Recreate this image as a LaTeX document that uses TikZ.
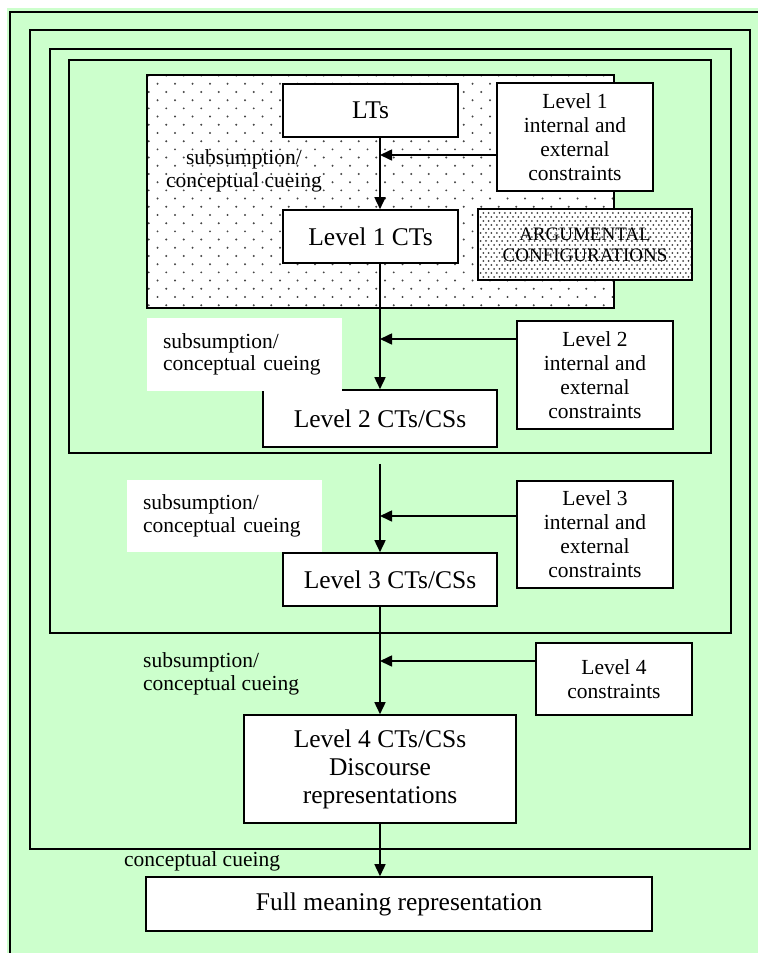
\documentclass[tikz,border=0pt]{standalone}
\usepackage{fontspec}
\setmainfont{Liberation Serif}
\usepackage{tikz}
\usetikzlibrary{arrows.meta,patterns,positioning,calc}

\definecolor{bggreen}{RGB}{204,255,204}
\definecolor{dotgray}{RGB}{70,70,70}

\pgfdeclarepatternformonly{sparse dots}{\pgfqpoint{-1pt}{-1pt}}{\pgfqpoint{18.5pt}{17.4pt}}{\pgfqpoint{17.5pt}{16.4pt}}{%
  \pgfpathcircle{\pgfqpoint{0pt}{0pt}}{1.1pt}
  \pgfpathcircle{\pgfqpoint{8.75pt}{8.2pt}}{1.1pt}
  \pgfusepath{fill}}
\pgfdeclarepatternformonly{dense dots}{\pgfqpoint{-1pt}{-1pt}}{\pgfqpoint{6.4pt}{9pt}}{\pgfqpoint{5.4pt}{8pt}}{%
  \pgfpathcircle{\pgfqpoint{0pt}{0pt}}{1pt}
  \pgfpathcircle{\pgfqpoint{2.7pt}{4pt}}{1pt}
  \pgfusepath{fill}}

\begin{document}
\begin{tikzpicture}[x=1pt,y=-1pt,
    frame/.style={line width=1.6pt},
    box/.style={draw,line width=1.6pt,fill=white,inner sep=0pt,align=center,
      font=\fontsize{25.5}{28}\selectfont},
    cons/.style={draw,line width=1.6pt,fill=white,inner sep=0pt,align=center,
      minimum width=156pt,font=\fontsize{21.5}{24}\selectfont},
    lbl/.style={inner sep=0pt,font=\fontsize{21.5}{22.5}\selectfont},
    flow/.style={line width=1.6pt,-{Triangle[length=12pt,width=11pt]}}]
  \useasboundingbox (0,0) rectangle (758,953);
  \fill[white] (0,0) rectangle (758,953);
  \fill[bggreen] (7,8) rectangle (758,953);

  % nested frames
  \draw[frame] (10,953) -- (10,12) -- (758,12);
  \draw[frame] (30,30) rectangle (750,849);
  \draw[frame] (50,49) rectangle (731,633);
  \draw[frame] (69,60) rectangle (711,453);
  \draw[frame,preaction={fill=white},pattern=sparse dots,pattern color=dotgray]
    (147,75) rectangle (614,308);

  \coordinate (spine) at (380,0);

  \node[box,minimum width=175pt,minimum height=53pt] (lts) at (370.5,110.5) {LTs};
  \node[box,minimum width=175pt,minimum height=53pt] (lone) at (370.5,236.5) {Level 1 CTs};
  \node[cons,minimum height=108pt] (conone) at (575,137)
    {Level 1\\internal and\\external\\constraints};
  \node[draw,line width=1.6pt,preaction={fill=white},pattern=dense dots,pattern color=black!75,
    minimum width=214pt,minimum height=71pt,inner sep=0pt,align=center,
    font=\fontsize{19}{21}\selectfont] (argu) at (585,244.5) {ARGUMENTAL\\CONFIGURATIONS};
  \node[lbl,align=center] (cueone) at (244,171) {subsumption/\\conceptual cueing};

  \node[box,minimum width=234pt,minimum height=57pt] (ltwo) at (380,418.5) {Level 2 CTs/CSs};
  \node[cons,minimum height=108pt] (contwo) at (595,375)
    {Level 2\\internal and\\external\\constraints};
  \node[lbl,fill=white,minimum width=195pt,minimum height=73pt,text width=163pt,align=left]
    (cuetwo) at (244.5,354.5) {subsumption/\\conceptual cueing};

  \node[box,minimum width=214pt,minimum height=53pt] (lthree) at (390,579.5) {Level 3 CTs/CSs};
  \node[cons,minimum height=107pt] (conthree) at (595,534.5)
    {Level 3\\internal and\\external\\constraints};
  \node[lbl,fill=white,minimum width=195pt,minimum height=72pt,text width=163pt,align=left]
    (cuethree) at (224.5,516) {subsumption/\\conceptual cueing};

  \node[box,minimum width=272pt,minimum height=108pt] (lfour) at (380,769)
    {Level 4 CTs/CSs\\Discourse\\representations};
  \node[cons,minimum height=72pt] (confour) at (614,679) {Level 4\\constraints};
  \node[lbl,anchor=west,align=left] (cuefour) at (143,674) {subsumption/\\conceptual cueing};

  \node[box,minimum width=506pt,minimum height=54pt] (full) at (399,904) {Full meaning representation};
  \node[lbl,anchor=west] (cuefive) at (124,861) {conceptual cueing};

  \draw[flow] (lts.south -| spine) -- (lone.north -| spine);
  \draw[flow] (lone.south -| spine) -- (ltwo.north);
  \draw[flow,shorten <=16pt] (ltwo.south) -- (lthree.north -| spine);
  \draw[flow] (lthree.south -| spine) -- (lfour.north);
  \draw[flow] (lfour.south) -- (full.north -| spine);

  \draw[flow] ([yshift=-18pt]conone.west) -- ([yshift=-18pt]conone.west -| spine);
  \draw[flow] ([yshift=36pt]contwo.west) -- ([yshift=36pt]contwo.west -| spine);
  \draw[flow] ([yshift=18.5pt]conthree.west) -- ([yshift=18.5pt]conthree.west -| spine);
  \draw[flow] ([yshift=18pt]confour.west) -- ([yshift=18pt]confour.west -| spine);
\end{tikzpicture}
\end{document}
